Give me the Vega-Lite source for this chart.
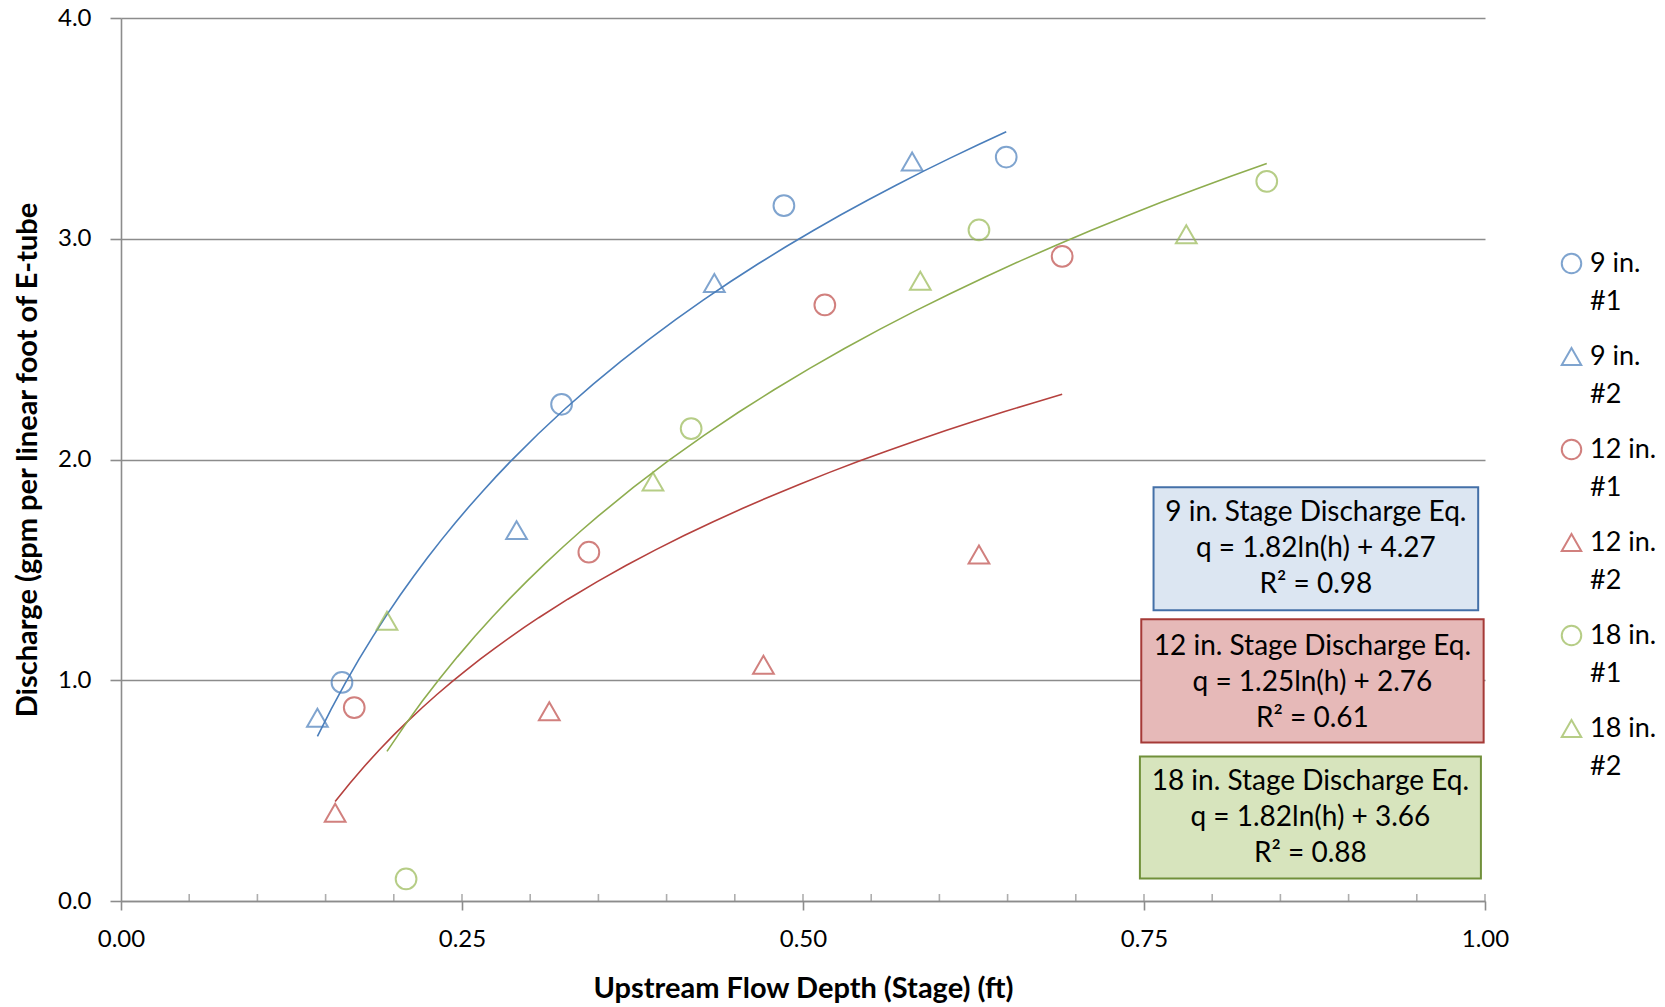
{
  "$schema": "https://vega.github.io/schema/vega-lite/v6.json",
  "width": 1364,
  "height": 883,
  "autosize": "none",
  "padding": {"left": 121, "top": 18, "right": 180, "bottom": 106},
  "background": "white",
  "config": {
    "view": {"stroke": null},
    "font": "Lato",
    "style": {"guide-label": {"lineHeight": 38}},
    "axis": {
      "labelFont": "Lato",
      "titleFont": "Lato",
      "labelColor": "#000000",
      "titleColor": "#000000",
      "domainColor": "#8c8c8c",
      "domainWidth": 1.6,
      "tickColor": "#8c8c8c",
      "tickWidth": 1.6,
      "gridColor": "#8c8c8c",
      "gridWidth": 1.6,
      "titleFontWeight": "bold"
    }
  },
  "datasets": {
    "points": [
      {"series": "9 in. #1", "size": "9 in.", "h": 0.162, "q": 0.99},
      {"series": "9 in. #1", "size": "9 in.", "h": 0.323, "q": 2.25},
      {"series": "9 in. #1", "size": "9 in.", "h": 0.486, "q": 3.15},
      {"series": "9 in. #1", "size": "9 in.", "h": 0.649, "q": 3.37},
      {"series": "9 in. #2", "size": "9 in.", "h": 0.144, "q": 0.83},
      {"series": "9 in. #2", "size": "9 in.", "h": 0.290, "q": 1.68},
      {"series": "9 in. #2", "size": "9 in.", "h": 0.435, "q": 2.80},
      {"series": "9 in. #2", "size": "9 in.", "h": 0.580, "q": 3.35},
      {"series": "12 in. #1", "size": "12 in.", "h": 0.171, "q": 0.876},
      {"series": "12 in. #1", "size": "12 in.", "h": 0.343, "q": 1.58},
      {"series": "12 in. #1", "size": "12 in.", "h": 0.516, "q": 2.70},
      {"series": "12 in. #1", "size": "12 in.", "h": 0.690, "q": 2.92},
      {"series": "12 in. #2", "size": "12 in.", "h": 0.157, "q": 0.40},
      {"series": "12 in. #2", "size": "12 in.", "h": 0.314, "q": 0.86},
      {"series": "12 in. #2", "size": "12 in.", "h": 0.471, "q": 1.07},
      {"series": "12 in. #2", "size": "12 in.", "h": 0.629, "q": 1.57},
      {"series": "18 in. #1", "size": "18 in.", "h": 0.209, "q": 0.10},
      {"series": "18 in. #1", "size": "18 in.", "h": 0.418, "q": 2.14},
      {"series": "18 in. #1", "size": "18 in.", "h": 0.629, "q": 3.04},
      {"series": "18 in. #1", "size": "18 in.", "h": 0.840, "q": 3.26},
      {"series": "18 in. #2", "size": "18 in.", "h": 0.195, "q": 1.27},
      {"series": "18 in. #2", "size": "18 in.", "h": 0.390, "q": 1.90},
      {"series": "18 in. #2", "size": "18 in.", "h": 0.586, "q": 2.81},
      {"series": "18 in. #2", "size": "18 in.", "h": 0.781, "q": 3.02}
    ],
    "boxes": [
      {"eq": "9 in.", "h0": 0.757, "h1": 0.995, "q0": 1.317, "q1": 1.874, "hm": 0.876, "qm": 1.594,
       "label": "9 in. Stage Discharge Eq.\nq = 1.82ln(h) + 4.27\nR² = 0.98"},
      {"eq": "12 in.", "h0": 0.748, "h1": 0.999, "q0": 0.718, "q1": 1.276, "hm": 0.8735, "qm": 0.986,
       "label": "12 in. Stage Discharge Eq.\nq = 1.25ln(h) + 2.76\nR² = 0.61"},
      {"eq": "18 in.", "h0": 0.747, "h1": 0.997, "q0": 0.102, "q1": 0.655, "hm": 0.872, "qm": 0.374,
       "label": "18 in. Stage Discharge Eq.\nq = 1.82ln(h) + 3.66\nR² = 0.88"}
    ],
    "ticks": [
      {"h": 0.05}, {"h": 0.10}, {"h": 0.15}, {"h": 0.20}, {"h": 0.25},
      {"h": 0.30}, {"h": 0.35}, {"h": 0.40}, {"h": 0.45}, {"h": 0.50},
      {"h": 0.55}, {"h": 0.60}, {"h": 0.65}, {"h": 0.70}, {"h": 0.75},
      {"h": 0.80}, {"h": 0.85}, {"h": 0.90}, {"h": 0.95}, {"h": 1.00}
    ]
  },
  "encoding": {
    "x": {
      "type": "quantitative",
      "scale": {"domain": [0, 1], "nice": false, "zero": false},
      "axis": {
        "title": "Upstream Flow Depth (Stage) (ft)",
        "values": [0, 0.25, 0.5, 0.75, 1],
        "format": ".2f",
        "grid": false,
        "labelFlush": false,
        "tickSize": 9,
        "labelFontSize": 24,
        "labelPadding": 17,
        "titleFontSize": 29,
        "titlePadding": 23
      }
    },
    "y": {
      "type": "quantitative",
      "scale": {"domain": [0, 4], "nice": false},
      "axis": {
        "title": "Discharge  (gpm per linear foot of E-tube",
        "values": [0, 1, 2, 3, 4],
        "format": ".1f",
        "grid": true,
        "labelFlush": false,
        "tickSize": 11,
        "labelFontSize": 24,
        "labelPadding": 19,
        "titleFontSize": 29,
        "titlePadding": 15
      }
    }
  },
  "layer": [
    {
      "data": {"name": "boxes"},
      "mark": {"type": "rect", "strokeWidth": 2},
      "encoding": {
        "x": {"field": "h0"},
        "x2": {"field": "h1"},
        "y": {"field": "q0"},
        "y2": {"field": "q1"},
        "fill": {
          "field": "eq", "type": "nominal",
          "scale": {"domain": ["9 in.", "12 in.", "18 in."], "range": ["#DCE6F2", "#E6B9B8", "#D7E4BD"]},
          "legend": null
        },
        "stroke": {
          "field": "eq", "type": "nominal",
          "scale": {"domain": ["9 in.", "12 in.", "18 in."], "range": ["#4470A8", "#A53A37", "#71903B"]},
          "legend": null
        }
      }
    },
    {
      "data": {"name": "boxes"},
      "mark": {"type": "text", "lineBreak": "\n", "font": "Lato", "fontSize": 28, "lineHeight": 36, "dy": -36, "align": "center", "baseline": "middle", "color": "#000000"},
      "encoding": {
        "x": {"field": "hm"},
        "y": {"field": "qm"},
        "text": {"field": "label"}
      }
    },
    {
      "data": {"name": "points"},
      "transform": [
        {"filter": "datum.size === '9 in.'"},
        {"regression": "q", "on": "h", "method": "log"}
      ],
      "mark": {"type": "line", "strokeWidth": 1.6, "color": "#4A7EBB"},
      "encoding": {"x": {"field": "h"}, "y": {"field": "q"}}
    },
    {
      "data": {"name": "points"},
      "transform": [
        {"filter": "datum.size === '12 in.'"},
        {"regression": "q", "on": "h", "method": "log"}
      ],
      "mark": {"type": "line", "strokeWidth": 1.6, "color": "#B5413E"},
      "encoding": {"x": {"field": "h"}, "y": {"field": "q"}}
    },
    {
      "data": {"name": "points"},
      "transform": [
        {"filter": "datum.size === '18 in.'"},
        {"regression": "q", "on": "h", "method": "log"}
      ],
      "mark": {"type": "line", "strokeWidth": 1.6, "color": "#8EAD4F"},
      "encoding": {"x": {"field": "h"}, "y": {"field": "q"}}
    },
    {
      "data": {"name": "points"},
      "mark": {"type": "point", "filled": false, "strokeWidth": 2, "size": 430},
      "encoding": {
        "x": {"field": "h"},
        "y": {"field": "q"},
        "color": {
          "field": "series", "type": "nominal",
          "scale": {
            "domain": ["9 in. #1", "9 in. #2", "12 in. #1", "12 in. #2", "18 in. #1", "18 in. #2"],
            "range": ["#4A7EBB", "#4A7EBB", "#BE4B48", "#BE4B48", "#98B954", "#98B954"]
          },
          "legend": {
            "title": null,
            "orient": "none",
            "legendX": 1437,
            "legendY": 232,
            "padding": 0,
            "symbolSize": 380,
            "symbolStrokeWidth": 2,
            "labelFont": "Lato",
            "labelFontSize": 27,
            "labelColor": "#000000",
            "labelOffset": 5,
            "labelLimit": 200,
            "rowPadding": 27,
            "labelExpr": "[slice(datum.label, 0, indexof(datum.label, '#') - 1), slice(datum.label, indexof(datum.label, '#'))]"
          }
        },
        "shape": {
          "field": "series", "type": "nominal",
          "scale": {
            "domain": ["9 in. #1", "9 in. #2", "12 in. #1", "12 in. #2", "18 in. #1", "18 in. #2"],
            "range": ["circle", "triangle-up", "circle", "triangle-up", "circle", "triangle-up"]
          }
        }
      }
    },
    {
      "data": {"name": "ticks"},
      "mark": {"type": "tick", "orient": "vertical", "size": 7, "thickness": 1.6, "yOffset": -3.5, "color": "#8c8c8c"},
      "encoding": {
        "x": {"field": "h"},
        "y": {"datum": 0}
      }
    }
  ]
}
